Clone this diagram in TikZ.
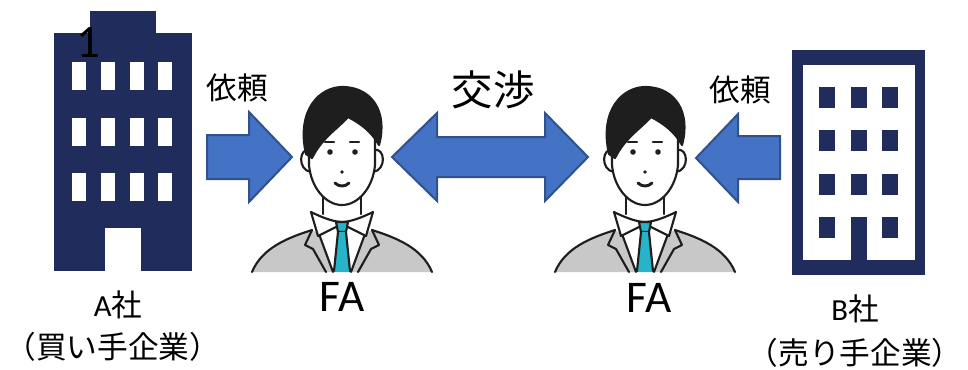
\documentclass[tikz,border=0pt]{standalone}
\usepackage{fontspec}
\setmainfont{Carlito}
\newfontfamily\jp{Noto Sans CJK JP}

\definecolor{navy}{RGB}{32,45,92}
\definecolor{arrowblue}{RGB}{68,114,196}
\definecolor{arrowedge}{RGB}{47,82,143}
\definecolor{suitgray}{RGB}{200,200,200}
\definecolor{tieteal}{RGB}{40,180,200}
\definecolor{inkline}{RGB}{30,30,30}

\tikzset{
  blockarrow/.style={fill=arrowblue,draw=arrowedge,line width=1.5pt,line join=miter},
  figline/.style={draw=inkline,line width=1.6pt,line join=round,line cap=round},
  label/.style={inner sep=0pt,font=\jp\fontsize{23}{23}\selectfont},
  % 担当者のイラスト
  fa/.pic={
    % 上着
    \fill[suitgray] (-90,122) .. controls (-80,98) and (-55,88) .. (-30,80) -- (-23,84) -- (-9,122) -- cycle;
    \fill[suitgray] (90,122) .. controls (80,98) and (55,88) .. (30,80) -- (23,84) -- (9,122) -- cycle;
    \draw[figline] (-90,122) .. controls (-80,98) and (-55,88) .. (-30,80);
    \draw[figline] (90,122) .. controls (80,98) and (55,88) .. (30,80);
    % 襟
    \draw[figline] (-30,80) -- (-37,95) -- (-29,99) -- (-16,122);
    \draw[figline] (30,80) -- (37,95) -- (29,99) -- (16,122);
    \draw[figline] (-23,84) -- (-9,122);
    \draw[figline] (23,84) -- (9,122);
    % 首
    \fill[white] (-19,40) rectangle (19,68);
    \draw[figline] (-19,45) -- (-19,64) (19,45) -- (19,64);
    % シャツの襟
    \filldraw[figline,fill=white] (-31,62) .. controls (-15,70) and (-5,72) .. (0,72)
      .. controls (5,72) and (15,70) .. (31,62) -- (24,86) -- (4,76) -- (-4,76) -- (-24,86) -- cycle;
    % ネクタイ
    \filldraw[figline,fill=tieteal] (-6,72) -- (6,72) -- (4,82) -- (-4,82) -- cycle;
    \fill[tieteal] (-4,82) -- (4,82) -- (8,122) -- (-8,122) -- cycle;
    \draw[figline] (-4,82) -- (-8,121) (4,82) -- (8,121);
    % 耳と顔
    \filldraw[figline,fill=white] (-32,0) .. controls (-43,-3) and (-45,20) .. (-31,22);
    \filldraw[figline,fill=white] (32,0) .. controls (43,-3) and (45,20) .. (31,22);
    \filldraw[figline,fill=white] (-33,-15) -- (-33,15) .. controls (-31,38) and (-16,55) .. (0,55)
      .. controls (16,55) and (31,38) .. (33,15) -- (33,-15);
    % 髪
    \filldraw[figline,fill=inkline] (-36,4) .. controls (-46,-40) and (-22,-64) .. (2,-63)
      .. controls (30,-62) and (46,-38) .. (37,-5) .. controls (30,-18) and (18,-27) .. (6,-33)
      .. controls (-6,-20) and (-20,-12) .. (-30,8) -- cycle;
    % 眉・目・鼻・口
    \draw[figline] (-17,-8) -- (-8,-8) (8,-8) -- (17,-8);
    \fill[inkline] (-12,2) circle (2.8) (13,2) circle (2.8) (0,22) circle (1.8);
    \draw[figline,line width=2.2pt] (-7,33) .. controls (-3,37) and (3,37) .. (7,33);
  }
}

\begin{document}
\begin{tikzpicture}[x=0.75pt,y=-0.75pt]
\useasboundingbox (0,0) rectangle (968,369);

% A社のビル
\fill[navy] (90,11) rectangle (156,34);
\fill[navy] (54,33) rectangle (192,271);
\foreach \i in {0,...,3}
  \foreach \j in {0,1,2}
    \fill[white] (72+28.8*\i,62+55.5*\j) rectangle ++(14,28);
\fill[white] (105,228) rectangle (141,272);
\node[inner sep=0pt,font=\fontsize{35}{35}\selectfont] (num) at (88,42) {1};

% B社のビル
\fill[navy] (792,50) rectangle (925,275);
\fill[white] (803,65) rectangle (915,260);
\foreach \i in {0,1,2}
  \foreach \j in {0,...,3}
    \fill[navy] (819+31.5*\i,87+43.4*\j) rectangle ++(16,21);
\fill[navy] (851,217) rectangle (867,262);

% 矢印
\filldraw[blockarrow] (207,135) -- (249,135) -- (249,112) -- (292,157) -- (249,202) -- (249,179) -- (207,179) -- cycle;
\filldraw[blockarrow] (392,157) -- (437,113) -- (437,137) -- (545,137) -- (545,113) -- (588,157)
  -- (545,201) -- (545,177) -- (437,177) -- (437,201) -- cycle;
\filldraw[blockarrow] (696,158) -- (738,114) -- (738,136) -- (780,136) -- (780,179) -- (738,179) -- (738,202) -- cycle;

% 担当者
\pic (faA) at (342,150) {fa};
\pic (faB) at (645,150) {fa};

% ラベル
\node[label] (reqA) at (237,88) {依頼};
\node[label] (reqB) at (740,90) {依頼};
\node[label,font=\jp\fontsize{31}{31}\selectfont] (nego) at (493,90) {交渉};
\node[inner sep=0pt,font=\fontsize{34}{34}\selectfont] (faAname) at (342,297) {FA};
\node[inner sep=0pt,font=\fontsize{34}{34}\selectfont] (faBname) at (649,298) {FA};
\node[label,font=\fontsize{23}{23}\selectfont] (coA) at (118,305) {A{\jp 社}};
\node[label] (roleA) at (113,347) {（買い手企業）};
\node[label,font=\fontsize{23}{23}\selectfont] (coB) at (855,309) {B{\jp 社}};
\node[label] (roleB) at (855,353) {（売り手企業）};
\end{tikzpicture}
\end{document}
